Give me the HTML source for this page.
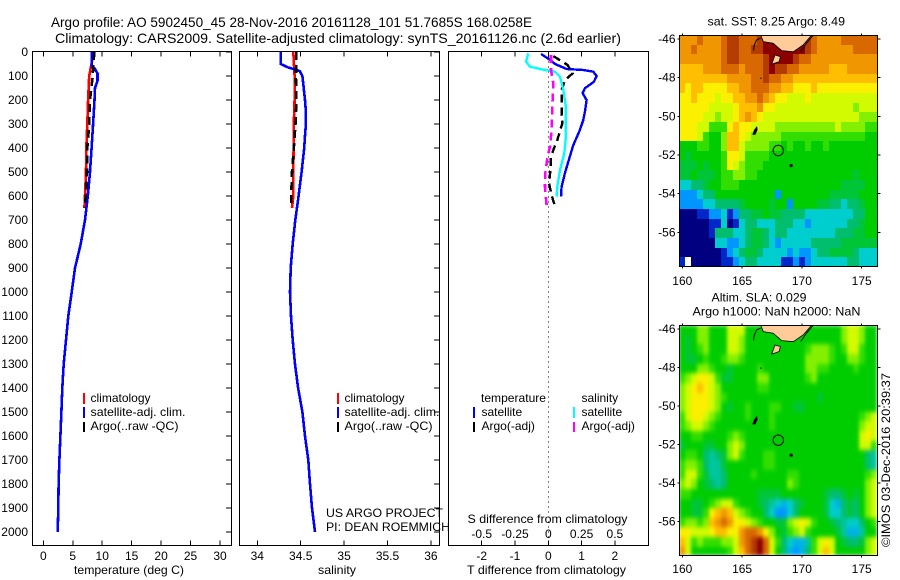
<!DOCTYPE html>
<html>
<head>
<meta charset="utf-8">
<title>Argo profile 5902450_45</title>
<style>
html,body{margin:0;padding:0;background:#fff;}
svg{display:block;}
text{font-family:"Liberation Sans",sans-serif;font-size:12px;fill:#000;}
.t14{font-size:14px;}
</style>
</head>
<body>
<svg id="chart" xmlns="http://www.w3.org/2000/svg" width="900" height="580" viewBox="0 0 900 580">
<rect x="0" y="0" width="900" height="580" fill="#fff"/>
<text class="t14" x="51" y="27" textLength="481" lengthAdjust="spacingAndGlyphs">Argo profile: AO 5902450_45 28-Nov-2016 20161128_101 51.7685S 168.0258E</text>
<text class="t14" x="55" y="43" textLength="566" lengthAdjust="spacingAndGlyphs">Climatology: CARS2009. Satellite-adjusted climatology: synTS_20161126.nc (2.6d earlier)</text>

<text x="74" y="574" textLength="110" lengthAdjust="spacingAndGlyphs">temperature (deg C)</text>
<text x="318" y="574" textLength="38" lengthAdjust="spacingAndGlyphs">salinity</text>
<text x="467" y="574" textLength="159" lengthAdjust="spacingAndGlyphs">T difference from climatology</text>
<text x="467.5" y="523" textLength="160" lengthAdjust="spacingAndGlyphs">S difference from climatology</text>

<g>
<rect x="83" y="393" width="2" height="11" fill="#f00"/>
<rect x="83" y="407" width="2" height="11" fill="#00f"/>
<rect x="83" y="422" width="2" height="10" fill="#000"/>
<text x="90.5" y="402">climatology</text>
<text x="90.5" y="416" textLength="95" lengthAdjust="spacingAndGlyphs">satellite-adj. clim.</text>
<text x="90.5" y="430" textLength="88" lengthAdjust="spacingAndGlyphs">Argo(..raw -QC)</text>
</g>
<g>
<rect x="337" y="393" width="2" height="11" fill="#f00"/>
<rect x="337" y="407" width="2" height="11" fill="#00f"/>
<rect x="337" y="422" width="2" height="10" fill="#000"/>
<text x="344.5" y="402">climatology</text>
<text x="344.5" y="416" textLength="95" lengthAdjust="spacingAndGlyphs">satellite-adj. clim.</text>
<text x="344.5" y="430" textLength="88" lengthAdjust="spacingAndGlyphs">Argo(..raw -QC)</text>
</g>
<text x="326" y="517" textLength="117" lengthAdjust="spacingAndGlyphs">US ARGO PROJECT</text>
<text x="326" y="531" textLength="124" lengthAdjust="spacingAndGlyphs">PI: DEAN ROEMMICH</text>

<g>
<text x="481" y="402" textLength="65" lengthAdjust="spacingAndGlyphs">temperature</text>
<text x="581.5" y="402">salinity</text>
<rect x="473" y="407" width="2" height="11" fill="#00f"/>
<rect x="473" y="422" width="2" height="10" fill="#000"/>
<rect x="573" y="407" width="2" height="11" fill="#0ff"/>
<rect x="573" y="422" width="2" height="10" fill="#f0f"/>
<text x="481.5" y="416">satellite</text>
<text x="481.5" y="430">Argo(-adj)</text>
<text x="581.5" y="416">satellite</text>
<text x="581.5" y="430">Argo(-adj)</text>
</g>

<text x="707.5" y="25.5" textLength="137.5" lengthAdjust="spacingAndGlyphs">sat. SST: 8.25 Argo: 8.49</text>
<text x="711.5" y="301.5" textLength="95" lengthAdjust="spacingAndGlyphs">Altim. SLA: 0.029</text>
<text x="692.5" y="315.5" textLength="168" lengthAdjust="spacingAndGlyphs">Argo h1000: NaN h2000: NaN</text>
<text transform="translate(890,547) rotate(-90)" x="0" y="0" textLength="174" lengthAdjust="spacingAndGlyphs">©IMOS 03-Dec-2016 20:39:37</text>
</svg>

<script>
/* ---------- profile data ---------- */
const depthTicks = [0,100,200,300,400,500,600,700,800,900,1000,1100,1200,1300,1400,1500,1600,1700,1800,1900,2000];
const tempTicks = [0,5,10,15,20,25,30];
const salTicks = [34,34.5,35,35.5,36];
const salTickLabels = ['34','34.5','35','35.5','36'];
const tDiffTicks = [-2,-1,0,1,2];
const sDiffTicks = [-0.5,-0.25,0,0.25,0.5];
const sDiffTickLabels = ['-0.5','-0.25','0','0.25','0.5'];

const climDepth = [0,100,200,300,400,500,600,650];
const tempClim = [8.55,7.8,7.6,7.47,7.3,7.25,7.08,6.97];
const salClim = [34.415,34.43,34.43,34.42,34.418,34.415,34.415,34.40];
const tempArgo = [8.66,8.39,7.93,7.8,7.47,7.42,7.2,7.08];
const salArgo = [34.45,34.445,34.45,34.44,34.42,34.40,34.39,34.39];

const tempSatDepth = [0,60,70,90,120,150,200,300,400,500,600,700,800,900,1000,1100,1200,1300,1400,1500,1600,1700,1800,1900,2000];
const tempSat = [8.2,8.2,8.78,9.2,9.2,8.78,8.7,8.45,8.2,7.93,7.55,7.08,6.35,5.38,4.82,4.25,3.85,3.46,3.23,3.07,2.9,2.73,2.6,2.55,2.45];
const salSatDepth = [0,50,55,65,72,80,100,150,200,250,300,350,400,500,600,700,800,900,1000,1100,1200,1300,1400,1500,1600,1700,1800,1900,2000];
const salSat = [34.27,34.27,34.3,34.36,34.43,34.49,34.52,34.535,34.55,34.56,34.56,34.55,34.54,34.51,34.476,34.438,34.408,34.385,34.377,34.388,34.408,34.434,34.47,34.52,34.55,34.587,34.607,34.63,34.665];

const tDiffSatDepth = [8,19,33,50,71,75,82,100,124,151,172,200,249,283,325,388,457,505,561,603];
const tDiffSat = [-0.22,-0.1,0.05,0.2,0.55,1.05,1.35,1.45,1.37,1.1,1.03,1.15,1.1,1.05,0.95,0.75,0.6,0.5,0.4,0.38];
const tDiffArgoDepth = [17,36,54,89,117,158,255,297,367,401,436,485,547,596,644];
const tDiffArgo = [0.15,0.37,0.58,0.73,0.5,0.4,0.4,0.42,0.27,0.17,0.08,0.07,0.02,0.1,0.2];
const sDiffSatDepth = [6,40,61,71,82,103,158,228,353,422,492,561,603];
const sDiffSat = [-0.15,-0.1675,-0.1375,-0.0625,0.05,0.0875,0.1125,0.1325,0.1325,0.12,0.0875,0.0675,0.0625];
const sDiffArgoDepth = [12,75,130,228,325,394,436,505,561,637];
const sDiffArgo = [0.02,0.02,0.0375,0.03,0.025,0.0125,-0.005,-0.0225,-0.025,-0.0125];

/* ---------- map data (colour-level per 0.5 degree cell, north to south) ---------- */
const mapLonTicks = [160,165,170,175];
const mapLatTicks = [46,48,50,52,54,56];
const floatLon = 168.0258;
const floatLat = 51.7685;

const sstGrid = [
[11,11,11,12,11,11,11,12,13,13,12,12,12,13,14,14,14,14,14,14,13,13,12,11,11,11,11,12,12,12,12,12,12],
[11,11,12,11,11,11,11,12,13,13,12,12,13,13,14,14,14,14,14,14,14,13,12,11,11,11,11,11,11,12,12,12,12],
[11,11,11,11,11,11,11,12,13,13,12,12,12,12,13,14,14,14,14,13,12,12,11,11,11,11,11,11,11,11,11,11,11],
[10,10,10,10,11,11,11,12,12,12,11,12,12,12,13,14,13,13,12,12,11,11,11,11,11,10,10,10,11,11,11,11,11],
[10,10,10,10,10,10,10,10,11,11,11,11,12,12,13,12,12,11,11,10,10,10,10,10,10,10,10,10,10,10,10,10,10],
[10,9,10,10,9,9,9,9,10,10,11,11,12,12,12,11,11,10,10,9,9,9,10,9,9,9,9,9,9,9,9,9,9],
[9,9,10,9,9,9,8,9,9,10,10,11,11,12,11,10,9,9,8,8,8,9,8,8,8,8,8,8,8,8,8,8,8],
[9,9,9,9,9,8,8,8,8,9,10,10,10,11,9,9,8,8,8,8,8,8,8,8,8,8,8,8,8,7,8,8,8],
[9,9,9,9,8,8,7,8,8,9,10,11,10,9,8,8,8,8,8,8,8,8,8,8,8,8,8,8,8,8,7,7,7],
[9,9,9,8,8,6,6,6,9,10,9,9,8,8,8,8,7,7,7,7,7,7,7,7,7,7,8,7,7,7,7,6,6],
[9,9,9,8,6,5,5,7,10,10,9,8,7,7,7,7,7,6,6,6,6,6,6,6,6,6,6,6,6,6,6,5,5],
[5,5,5,6,6,5,5,7,10,10,8,7,7,7,7,6,6,5,6,5,5,6,5,5,6,5,5,5,5,5,5,5,5],
[5,4.5,5,5,5,5,5,6,9,9,8,6,6,6,6,5,5,5,5,5,5,5,5,5,5,5,5,5,5,5,5,5,5],
[4.5,4.5,4.5,5,4.5,5,5,6,9,8,7,6,6,6,5,5,5,5,5,5,5,5,5,5,5,5,5,5,5,5,5,5,5],
[4.5,4.5,5,4.5,4.5,4.5,5,6,6,7,7,6,6,5,5,5,5,5,5,5,5,5,5,5,5,5,5,5,5,4.5,5,5,5],
[3,3,4,4,4.5,5,5,6,6,6,5,5,5,5,5,5,5,5,5,5,5,5,5,5,5,5,5,4.5,4.5,4.5,4.5,5,5],
[2,2,2,3,4,4,5,5,5,5,5,5,5,5,5,5,2,5,5,5,5,5,5,5,5,4.5,4.5,4.5,4.5,4.5,5,5,5],
[2,2,2,2,3,3,4,4,4,4,4.5,5,5,5,5,4.5,5,5,2,5,5,5,5,4.5,4.5,4,4,3,4,4,4.5,5,5],
[0,0,0,1,1,2,2,3,1,2,4,4,4.5,4.5,5,4.5,4.5,4,4,4,4,3,3,3,3,3,3,3,3,4,4,5,5],
[0,0,0,0,0,1,1,3,0,1,3,4,4,3,3,3,4,4,4,3,3,2,3,3,3,3,3,3,4,4,4.5,5,5],
[0,0,0,0,0,1,4,4,4,3,3,4,4.5,4.5,4,3,4,4,3,3,3,3,3,3,3,3,4,4,4,4.5,4.5,5,5],
[0,0,0,0,0,0,3,3,2,2,3,4,4.5,4.5,4,3,2,3,3,3,3,3,4,4,4,4,4,4.5,4.5,4.5,4.5,4.5,4.5],
[0,0,0,0,0,0,0,1,2,3,4,4.5,4.5,4,3,3,3,3,2,3,2,2,3,4,4,4.5,4.5,4.5,4.5,4,3,3,3],
[1,null,0,0,0,0,0,1,1,2,3,4,4,3,3,3,3,1,1,2,1,2,3,3,3,3,3,3,4,4,3,3,3]
];

const slaGrid = [
[5,5,5,7,7,5,5,5,8,8,8,5,5,5,5,5,5,5,5,5,5,5,5,5,5,5,5,7,8,8,7,5,5],
[5,4.5,5,7,7,5,5,5,8,8,7,5,5,5,5,5,5,5,5,5,5,5,5,5,5,5,5,7,8,8,7,5,5],
[5,4.5,5,6,7,5,5,5,8,8,7,5,5,5,5,5,5,5,5,5,5,6,7,7,7,6,5,6,8,8,6,5,5],
[5,4.5,4.5,5,6,5,5,6,7,7,6,5,5,5,5,5,5,5,5,5,5,7,7,7,7,6,5,5,7,7,6,5,5],
[5,5,5,7,7,6,5,5,4.5,5,5,5,5,6,5,5,5,5,5,5,5,7,7,6,6,5,5,5,5,6,5,5,5],
[6,7,8,9,9,8,6,4.5,4.5,5,5,5,5,7,7,5,5,5,5,5,5,6,7,5,5,5,5,5,5,5,5,5,5],
[7,8,9,10,9,8,7,5,5,5,5,5,5,6,6,5,5,5,5,5,5,5,5,5,5,5,5,5,5,5,5,5,5],
[7,8,9,9,9,8,7,6,5,5,5,5,5,5,5,5,5,5,5,5,5,5,5,4.5,5,5,5,5,5,5,5,5,5],
[7,8,9,9,9,8,7,5,4.5,5,5,6,5,5,5,6,6,5,5,4.5,4.5,5,5,5,5,5,5,5,5,5,5,5,5],
[6,8,9,9,8,7,6,5,5,5,5,6,5,5,5,6,5,5,5,5,5,5,5,5,5,5,5,5,5,5,6,7,8],
[6,7,8,8,7,6,5,5,5,5,5,5,5,5,5,6,5,5,5,5,5,5,5,5,5,5,5,5,5,5,7,8,8],
[5,5,6,6,5,5,5,5,6,7,6,5,5,5,5,5,5,5,5,5,5,5,5,5,5,5,5,5,5,5,8,9,8],
[4.5,5,5,5,4.5,4.5,5,5,7,8,7,5,5,5,5,5,5,5,5,5,5,5,5,5,5,5,5,5,5,5,8,8,6],
[5,6,6,5,4,3.5,4,4.5,7,8,6,5,5,5,6,6,5,5,5,5,5,5,5,5,5,5,5,5,5,5,5,4,3.5],
[6,7,7,6,4,3.5,3.5,4.5,5,5,5,5,5,5,6,6,5,5,5,5,5,5,5,5,5,5,5,5,5,5,5,4,3.5],
[6,8,8,6,4.5,3.5,3.5,4,5,5,5,5,6,5,5,5,5,5,6,6,5,5,5,5,5,5,5,5,5,5,5,6,7],
[7,8,7,5,4.5,4,3.5,4,5,5,5,5,5,5,5,5,5,5,7,6,5,5,5,5,5,5,5,5,5,5,5,7,8],
[6,6,5,5,5,5,5,5,5,5,5,5,5,4.5,4.5,4.5,4.5,5,5,5,5,5,5,5,4.5,4,4,4.5,5,4.5,5,7,8],
[5,5,4.5,4.5,5,6,7,8,8,6,5,5,5,4.5,4,3.5,3,2.5,3,4,4.5,5,5,5,4.5,3,2.5,4,4.5,4,5,7,8],
[5,5,4.5,4.5,6,9,10,11,10,8,7,6,5,5,4,3,2,2,3,4,5,5,5,5,4.5,3,3,4,4.5,4,5,7,8],
[6,7,7,6,7,10,11,12,11,9,9,8,7,6,5,5,4.5,4.5,7,8,9,8,6,5,5,4.5,4,3.5,3,3,4,5,6],
[9,9,8,8,8,9,10,10,9,9,11,12,12,11,9,7,5,4.5,6,7,8,6,5,5,5,5,4.5,3.5,2.5,2.5,3.5,5,5],
[10,8,6,7,6,6,6,7,7,8,11,12,13,14,12,8,6,4,3,2.5,2.5,3.5,6,8,9,8,5,4.5,4,4,4.5,7,8],
[11,8,5,5,5,5,5,5,6,8,10,12,13,14,12,8,5,4,2.5,2,2.5,4,6,8,10,8,5,5,5,5,5,7,8]
];

/* coast outlines, [lon, lat] */
const southIslandCoast = [[166.5,45.7],[166.77,46.14],[167.6,46.22],[168.3,46.6],[169.28,46.66],[170.1,46.31],[170.95,45.7]];
const stewartIslandCoast = [[167.74,46.83],[168.2,46.91],[168.1,47.17],[167.47,47.31],[167.6,47.09]];
const fiordCoast = [[166.55,45.95],[166.2,46.05],[166.0,46.35],[165.95,46.6]];
const easternCoast = [[170.95,45.8],[170.4,46.2],[169.9,46.65]];
const macquarieIsland = [[166.25,50.5],[166.3,50.7],[166.1,50.95],[165.85,50.95],[166.0,50.7]];

/* ---------- axis geometry ---------- */
const NS = 'http://www.w3.org/2000/svg';
const svg = document.getElementById('chart');
const depthY = d => 52 + d * 0.24;
const tempX = v => 43.3 + v * 5.89;
const salX = v => 257.3 + (v - 34) * 86.8;
const tDiffX = v => 548.3 + v * 33.3;
const sDiffX = v => 548.3 + v * 133.2;
const mapLonX = lon => 682.3 + (lon - 160) * 11.96;
const sstLatY = lat => 39 + (lat - 46) * 19.33;
const slaLatY = lat => 329 + (lat - 46) * 19.27;

function mk(tag, parent, name) {
  const el = document.createElementNS(NS, tag);
  
  
  parent.appendChild(el);
  return el;
}
function seg(parent, name, x1, y1, x2, y2) {
  const l = mk('line', parent, name);
  l.setAttribute('x1', x1); l.setAttribute('y1', y1);
  l.setAttribute('x2', x2); l.setAttribute('y2', y2);
  l.setAttribute('stroke', '#000');
  l.setAttribute('stroke-width', 1);
  l.setAttribute('shape-rendering', 'crispEdges');
  return l;
}
function label(parent, name, x, y, anchor, str) {
  const t = mk('text', parent, name);
  t.setAttribute('x', x); t.setAttribute('y', y);
  t.setAttribute('text-anchor', anchor);
  t.textContent = str;
  return t;
}
function frame(parent, name, x0, y0, x1, y1) {
  const r = mk('rect', parent, name);
  r.setAttribute('x', x0); r.setAttribute('y', y0);
  r.setAttribute('width', x1 - x0); r.setAttribute('height', y1 - y0);
  r.setAttribute('fill', 'none');
  r.setAttribute('stroke', '#000');
  r.setAttribute('stroke-width', 1);
  r.setAttribute('shape-rendering', 'crispEdges');
}
function profile(parent, name, xs, ds, xScale, color, width, dash) {
  const p = mk('polyline', parent, name);
  p.setAttribute('points', xs.map((v, i) => xScale(v).toFixed(1) + ',' + depthY(ds[i]).toFixed(1)).join(' '));
  p.setAttribute('fill', 'none');
  p.setAttribute('stroke', color);
  p.setAttribute('stroke-width', width);
  p.setAttribute('shape-rendering', 'crispEdges');
  if (dash) p.setAttribute('stroke-dasharray', dash);
}

const B = 545.5, T = 51.5;

/* ---------- temperature panel ---------- */
const g1 = mk('g', svg, 'temperature-panel');
frame(g1, 'temperature-plot-frame', 32.5, T, 231.5, B);
depthTicks.forEach(d => {
  seg(g1, 'depth-tick-right', 226, depthY(d), 231.5, depthY(d));
  label(g1, 'depth-tick-label', 28, depthY(d) + 4, 'end', String(d));
});
tempTicks.forEach(v => {
  seg(g1, 'temperature-tick-top', tempX(v), T, tempX(v), T + 5);
  seg(g1, 'temperature-tick-bottom', tempX(v), B - 5, tempX(v), B);
  label(g1, 'temperature-tick-label', tempX(v), 560, 'middle', String(v));
});
profile(g1, 'temperature-climatology-line', tempClim, climDepth, tempX, '#f00', 2.6);
profile(g1, 'temperature-satellite-line', tempSat, tempSatDepth, tempX, '#00f', 2.6);
profile(g1, 'temperature-argo-line', tempArgo, climDepth, tempX, '#000', 2.6, '8 5');

/* ---------- salinity panel ---------- */
const g2 = mk('g', svg, 'salinity-panel');
frame(g2, 'salinity-plot-frame', 239.5, T, 439.5, B);
depthTicks.forEach(d => {
  seg(g2, 'depth-tick-right', 434, depthY(d), 439.5, depthY(d));
});
salTicks.forEach((v, i) => {
  seg(g2, 'salinity-tick-top', salX(v), T, salX(v), T + 5);
  seg(g2, 'salinity-tick-bottom', salX(v), B - 5, salX(v), B);
  label(g2, 'salinity-tick-label', salX(v), 560, 'middle', salTickLabels[i]);
});
profile(g2, 'salinity-climatology-line', salClim, climDepth, salX, '#f00', 2.6);
profile(g2, 'salinity-satellite-line', salSat, salSatDepth, salX, '#00f', 2.6);
profile(g2, 'salinity-argo-line', salArgo, climDepth, salX, '#000', 2.6, '8 5');

/* ---------- difference panel ---------- */
const g3 = mk('g', svg, 'difference-panel');
frame(g3, 'difference-plot-frame', 448.5, T, 648.5, B);
tDiffTicks.forEach(v => {
  seg(g3, 'difference-tick-top', tDiffX(v), T, tDiffX(v), T + 5);
  seg(g3, 'difference-tick-bottom', tDiffX(v), B - 5, tDiffX(v), B);
  label(g3, 't-difference-tick-label', tDiffX(v), 560, 'middle', String(v));
});
sDiffTicks.forEach((v, i) => {
  label(g3, 's-difference-tick-label', sDiffX(v), 538, 'middle', sDiffTickLabels[i]);
});
const zeroLine = seg(g3, 'zero-difference-line', Math.floor(tDiffX(0)) + 0.5, T, Math.floor(tDiffX(0)) + 0.5, B);
zeroLine.setAttribute('stroke-dasharray', '1 4');
profile(g3, 't-difference-satellite-line', tDiffSat, tDiffSatDepth, tDiffX, '#00f', 2.4);
profile(g3, 't-difference-argo-line', tDiffArgo, tDiffArgoDepth, tDiffX, '#000', 2.4, '8 5');
profile(g3, 's-difference-satellite-line', sDiffSat, sDiffSatDepth, sDiffX, '#0ff', 2.4);
profile(g3, 's-difference-argo-line', sDiffArgo, sDiffArgoDepth, sDiffX, '#f0f', 2.6, '8 5');

/* ---------- maps ---------- */
const palette = [[0,0,128],[0,40,200],[0,150,255],[0,205,205],[0,190,110],[0,205,0],[50,222,0],[130,240,0],[210,250,0],[250,240,0],[255,190,0],[240,150,0],[215,105,0],[180,60,0],[140,0,0]];
function levelColor(v) {
  const lo = Math.max(0, Math.min(palette.length - 1, Math.floor(v)));
  const hi = Math.min(palette.length - 1, lo + 1);
  const f = Math.max(0, Math.min(1, v - lo));
  const c = palette[lo].map((a, i) => Math.round(a + (palette[hi][i] - a) * f));
  return 'rgb(' + c.join(',') + ')';
}
const LON0 = 159.75, LAT0 = 45.8, CELL = 0.5;
let clipId = 0;
function coastPath(pts, latY) {
  return pts.map(p => mapLonX(p[0]).toFixed(1) + ',' + latY(p[1]).toFixed(1)).join(' ');
}
function drawMap(prefix, grid, latY, x0, y0, x1, y1, lonLabelY, smooth) {
  const g = mk('g', svg, prefix + '-map');
  const defs = mk('defs', g, prefix + '-map-defs');
  const cp = mk('clipPath', defs, prefix + '-map-clip');
  clipId += 1;
  cp.setAttribute('id', 'mapclip' + clipId);
  const cr = mk('rect', cp, prefix + '-map-clip-rect');
  cr.setAttribute('x', x0); cr.setAttribute('y', y0);
  cr.setAttribute('width', x1 - x0); cr.setAttribute('height', y1 - y0);
  const inner = mk('g', g, prefix + '-map-area');
  inner.setAttribute('clip-path', 'url(#mapclip' + clipId + ')');
  const cells = mk('g', inner, prefix + '-cells');
  if (smooth) {
    const flt = mk('filter', defs, prefix + '-smoothing-filter');
    flt.setAttribute('id', 'mapsmooth' + clipId);
    flt.setAttribute('filterUnits', 'userSpaceOnUse');
    flt.setAttribute('x', x0); flt.setAttribute('y', y0);
    flt.setAttribute('width', x1 - x0); flt.setAttribute('height', y1 - y0);
    flt.setAttribute('color-interpolation-filters', 'sRGB');
    const blur = mk('feGaussianBlur', flt, prefix + '-smoothing-blur');
    blur.setAttribute('stdDeviation', smooth);
    blur.setAttribute('edgeMode', 'duplicate');
    cells.setAttribute('filter', 'url(#mapsmooth' + clipId + ')');
  }
  grid.forEach((row, r) => {
    row.forEach((v, c) => {
      if (v === null) return;
      const cell = mk('rect', cells, prefix + '-cell');
      const xa = Math.round(mapLonX(LON0 + c * CELL));
      const xb = Math.round(mapLonX(LON0 + (c + 1) * CELL));
      const ya = Math.round(latY(LAT0 + r * CELL));
      const yb = Math.round(latY(LAT0 + (r + 1) * CELL));
      cell.setAttribute('x', xa); cell.setAttribute('y', ya);
      cell.setAttribute('width', xb - xa); cell.setAttribute('height', yb - ya);
      cell.setAttribute('fill', levelColor(v));
      cell.setAttribute('shape-rendering', 'crispEdges');
    });
  });
  [southIslandCoast, stewartIslandCoast].forEach(pts => {
    const land = mk('polygon', inner, prefix + '-land');
    land.setAttribute('points', coastPath(pts, latY));
    land.setAttribute('fill', '#ffcc99');
    land.setAttribute('stroke', '#000');
    land.setAttribute('stroke-width', 0.8);
  });
  [fiordCoast, easternCoast].forEach(pts => {
    const coast = mk('polyline', inner, prefix + '-coastline');
    coast.setAttribute('points', coastPath(pts, latY));
    coast.setAttribute('fill', 'none');
    coast.setAttribute('stroke', '#000');
    coast.setAttribute('stroke-width', 1);
  });
  const mac = mk('polygon', inner, prefix + '-island');
  mac.setAttribute('points', coastPath(macquarieIsland, latY));
  mac.setAttribute('fill', '#000');
  const dot = mk('circle', inner, prefix + '-small-island');
  dot.setAttribute('cx', mapLonX(169.1)); dot.setAttribute('cy', latY(52.55));
  dot.setAttribute('r', 1.6);
  dot.setAttribute('fill', '#000');
  const dot2 = mk('circle', inner, prefix + '-tiny-island');
  dot2.setAttribute('cx', mapLonX(166.57)); dot2.setAttribute('cy', latY(48.03));
  dot2.setAttribute('r', 0.7);
  dot2.setAttribute('fill', '#000');
  const ring = mk('circle', inner, prefix + '-float-position');
  ring.setAttribute('cx', mapLonX(floatLon)); ring.setAttribute('cy', latY(floatLat));
  ring.setAttribute('r', 5.2);
  ring.setAttribute('fill', 'none');
  ring.setAttribute('stroke', '#000');
  ring.setAttribute('stroke-width', 1);
  frame(g, prefix + '-map-frame', x0, y0, x1, y1);
  mapLonTicks.forEach(lon => {
    seg(g, prefix + '-lon-tick-top', mapLonX(lon), y0 - 2, mapLonX(lon), y0);
    seg(g, prefix + '-lon-tick-bottom', mapLonX(lon), y1, mapLonX(lon), y1 + 2);
    label(g, prefix + '-lon-tick-label', mapLonX(lon), lonLabelY, 'middle', String(lon));
  });
  mapLatTicks.forEach(lat => {
    seg(g, prefix + '-lat-tick-right', x1, latY(lat), x1 + 3, latY(lat));
    seg(g, prefix + '-lat-tick-left', x0 - 2, latY(lat), x0, latY(lat));
    label(g, prefix + '-lat-tick-label', 675.5, latY(lat) + 4, 'end', '-' + lat);
  });
}
drawMap('sst', sstGrid, sstLatY, 679.5, 35.5, 877.5, 266.5, 285, 0);
drawMap('sla', slaGrid, slaLatY, 679.5, 325.5, 877.5, 555.5, 573, '1.6 2.4');
</script>
</body>
</html>
